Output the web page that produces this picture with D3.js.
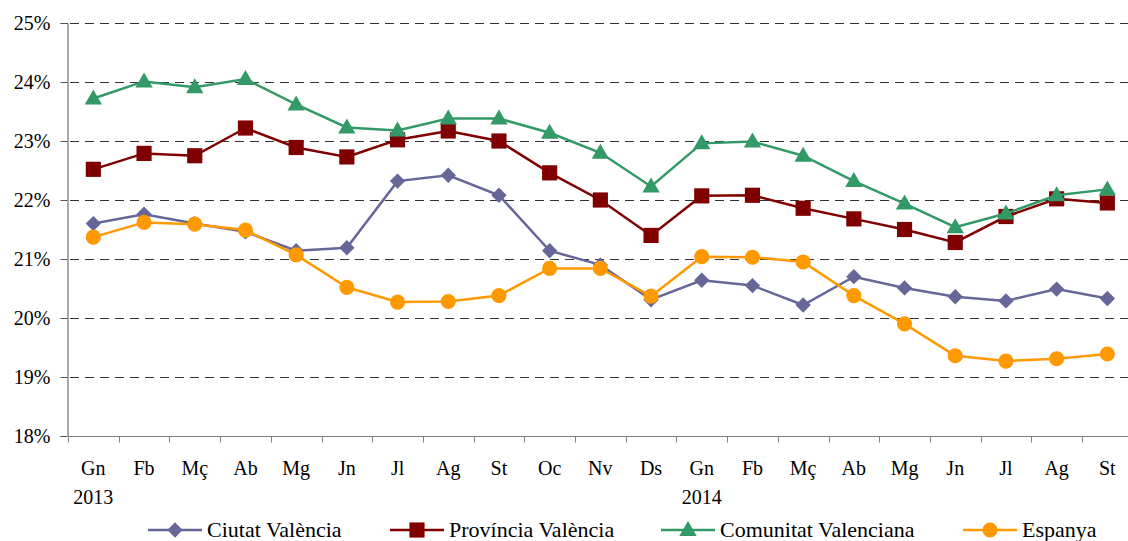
<!DOCTYPE html>
<html>
<head>
<meta charset="utf-8" />
<title>Taxa d'atur 2013-2014</title>
<script src="https://d3js.org/d3.v7.min.js"></script>
<style>
    html, body { margin: 0; padding: 0; background: #fff; }
    svg { display: block; font-family: 'Liberation Serif', 'Times New Roman', serif; }
</style>
</head>
<body>
<div id="chart"></div>
<script>
// months Gn 2013 .. St 2014
var months = ["Gn","Fb","Mç","Ab","Mg","Jn","Jl","Ag","St","Oc","Nv","Ds",
              "Gn","Fb","Mç","Ab","Mg","Jn","Jl","Ag","St"];
var years = {0: "2013", 12: "2014"};
var yTicks = [18, 19, 20, 21, 22, 23, 24, 25];

var ciutat = [21.60, 21.76, 21.60, 21.46, 21.14, 21.19, 22.32, 22.42, 22.08, 21.14, 20.90, 20.31,
              20.64, 20.55, 20.22, 20.70, 20.51, 20.36, 20.29, 20.49, 20.33];
var provincia = [22.52, 22.79, 22.75, 23.22, 22.89, 22.73, 23.02, 23.17, 23.00, 22.46, 22.00, 21.40,
                 22.07, 22.08, 21.86, 21.68, 21.50, 21.28, 21.72, 22.02, 21.95];
var comunitat = [23.72, 24.01, 23.91, 24.05, 23.62, 23.23, 23.18, 23.38, 23.38, 23.14, 22.80, 22.23,
                 22.96, 22.99, 22.75, 22.32, 21.94, 21.54, 21.77, 22.08, 22.18];
var espanya = [21.37, 21.62, 21.59, 21.49, 21.07, 20.52, 20.27, 20.28, 20.38, 20.84, 20.84, 20.37,
               21.04, 21.03, 20.95, 20.38, 19.90, 19.36, 19.27, 19.31, 19.39];

var series = [
    {name: "Ciutat València", values: ciutat, color: "#666699", symbol: d3.symbolDiamond2, size: 150, lx: 148},
    {name: "Província València", values: provincia, color: "#800000", symbol: d3.symbolSquare, size: 230, lx: 390},
    {name: "Comunitat Valenciana", values: comunitat, color: "#339966", symbol: d3.symbolTriangle, size: 130, lx: 661},
    {name: "Espanya", values: espanya, color: "#FF9900", symbol: d3.symbolCircle, size: 180, lx: 963}
];

var W = 1128, H = 541;
var plotLeft = 68, plotTop = 23, plotBottom = 436;
var step = 50.7;

var svg = d3.select("#chart").append("svg")
    .attr("width", W)
    .attr("height", H);

var x = d3.scaleBand()
    .domain(d3.range(months.length))
    .range([plotLeft, plotLeft + step * months.length])
    .padding(0);

var y = d3.scaleLinear()
    .domain([18, 25])
    .range([plotBottom, plotTop]);

// gridlines
svg.append("g")
    .selectAll("line")
    .data(yTicks.filter(function(d){ return d > 18; }))
    .join("line")
    .attr("x1", plotLeft + 2)
    .attr("x2", W)
    .attr("y1", function(d){ return y(d) + 0.5; })
    .attr("y2", function(d){ return y(d) + 0.5; })
    .attr("stroke", "#333")
    .attr("stroke-width", 1)
    .attr("stroke-dasharray", "9,6");

// y axis
var yAxis = svg.append("g")
    .attr("transform", "translate(" + (plotLeft - 0.5) + ",0)")
    .call(d3.axisLeft(y).tickValues(yTicks).tickSize(7).tickPadding(10)
        .tickFormat(function(d){ return d + "%"; }));
yAxis.attr("font-family", null);
yAxis.select(".domain").attr("stroke", "#555");
yAxis.selectAll(".tick line").attr("stroke", "#555");
yAxis.selectAll("text")
    .attr("font-size", 20)
    .attr("fill", "#000");

// x axis: ticks on category borders
var xAxis = svg.append("g")
    .attr("transform", "translate(0," + (plotBottom + 0.5) + ")");
xAxis.append("line")
    .attr("x1", plotLeft - 1)
    .attr("x2", W)
    .attr("stroke", "#808080");
xAxis.selectAll("line.tk")
    .data(d3.range(months.length + 1))
    .join("line")
    .attr("class", "tk")
    .attr("x1", function(d){ return Math.round(plotLeft + step * d) + 0.5; })
    .attr("x2", function(d){ return Math.round(plotLeft + step * d) + 0.5; })
    .attr("y1", 0)
    .attr("y2", 6)
    .attr("stroke", "#808080");

svg.append("g")
    .selectAll("text")
    .data(months)
    .join("text")
    .attr("x", function(d, i){ return x(i) + x.bandwidth() / 2; })
    .attr("y", 475)
    .attr("text-anchor", "middle")
    .attr("font-size", 20)
    .text(function(d){ return d; });

svg.append("g")
    .selectAll("text")
    .data(Object.keys(years))
    .join("text")
    .attr("x", function(d){ return x(+d) + x.bandwidth() / 2; })
    .attr("y", 504)
    .attr("text-anchor", "middle")
    .attr("font-size", 20)
    .text(function(d){ return years[d]; });

// lines + markers
var line = d3.line()
    .x(function(d, i){ return x(i) + x.bandwidth() / 2; })
    .y(function(d){ return y(d); });

series.forEach(function(s) {
    var g = svg.append("g");
    g.append("path")
        .datum(s.values)
        .attr("d", line)
        .attr("fill", "none")
        .attr("stroke", s.color)
        .attr("stroke-width", 2.5);

    g.selectAll("path.mk")
        .data(s.values)
        .join("path")
        .attr("class", "mk")
        .attr("d", d3.symbol().type(s.symbol).size(s.size))
        .attr("transform", function(d, i){
            var dy = s.symbol === d3.symbolTriangle ? 1 : 0;
            return "translate(" + (x(i) + x.bandwidth() / 2) + "," + (y(d) + dy) + ")";
        })
        .attr("fill", s.color);
});

// legend
var legend = svg.append("g").attr("transform", "translate(0,530)");
series.forEach(function(s) {
    var lg = legend.append("g");
    lg.append("line")
        .attr("x1", s.lx)
        .attr("x2", s.lx + 54)
        .attr("stroke", s.color)
        .attr("stroke-width", 2.5);
    lg.append("path")
        .attr("d", d3.symbol().type(s.symbol).size(s.size))
        .attr("transform", "translate(" + (s.lx + 27) + "," + (s.symbol === d3.symbolTriangle ? 1 : 0) + ")")
        .attr("fill", s.color);
    lg.append("text")
        .attr("x", s.lx + 59)
        .attr("y", 7)
        .attr("font-size", 22)
        .text(s.name);
});
</script>
</body>
</html>
